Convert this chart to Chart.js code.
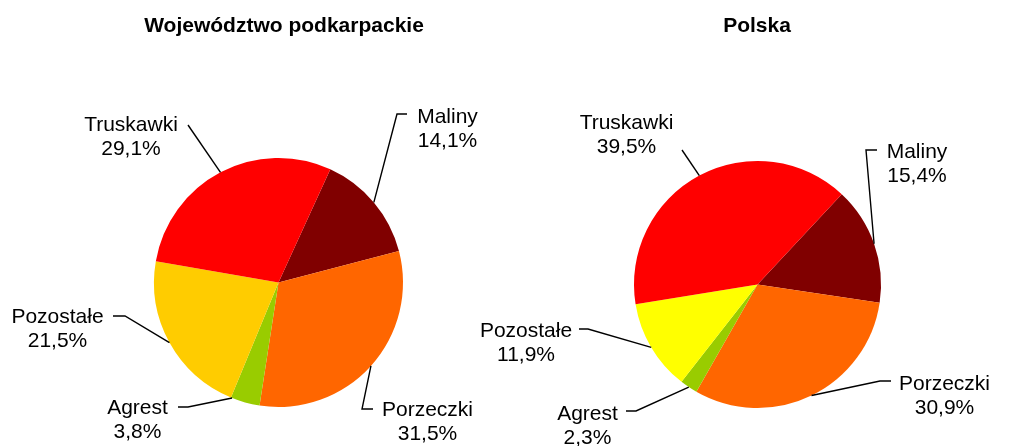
<!DOCTYPE html>
<html>
<head>
<meta charset="utf-8">
<script src="https://cdn.jsdelivr.net/npm/chart.js@4.4.1/dist/chart.umd.min.js"></script>
<style>
  html, body { margin: 0; padding: 0; background: #ffffff; }
  #wrap { position: relative; width: 1019px; height: 446px; }
  #wrap canvas { position: absolute; left: 0; top: 0; }
</style>
</head>
<body>
<div id="wrap">
  <canvas id="c1" width="1019" height="446"></canvas>
  <canvas id="c2" width="1019" height="446"></canvas>
</div>
<script>
// ---- data ----
const categories = ['Maliny', 'Porzeczki', 'Agrest', 'Pozostałe', 'Truskawki'];
const titlePodkarpackie = 'Województwo podkarpackie';
const titlePolska = 'Polska';
const valuesPodkarpackie = [14.1, 31.5, 3.8, 21.5, 29.1];
const valuesPolska = [15.4, 30.9, 2.3, 11.9, 39.5];

// ---- styles ----
const colorsPodkarpackie = ['#800000', '#FF6600', '#99CC00', '#FFCC00', '#FF0000'];
const colorsPolska = ['#800000', '#FF6600', '#99CC00', '#FFFF00', '#FF0000'];
const FONT = '"Liberation Sans", Arial, Helvetica, sans-serif';

// label layout: text centre x, first baseline y, leader elbow & end, attach fraction along the arc
const layoutPodkarpackie = [
  { tx: 447.5, ty: 123, elbow: [397, 114], end: [407, 114], frac: 0.5 },
  { tx: 427.5, ty: 416, elbow: [362, 409], end: [373, 409], frac: 0.5 },
  { tx: 137.5, ty: 414, elbow: [188, 407], end: [178, 407], frac: 0.96 },
  { tx: 57.5,  ty: 323, elbow: [125, 316], end: [113, 316], frac: 0.5 },
  { tx: 131,   ty: 131, elbow: [188, 125], end: [188, 125], frac: 0.5 }
];
const layoutPolska = [
  { tx: 917,   ty: 158, elbow: [866, 150], end: [877, 150], frac: 0.5 },
  { tx: 944.5, ty: 390, elbow: [880, 381], end: [891, 381], frac: 0.5 },
  { tx: 587.5, ty: 420, elbow: [636, 411], end: [626, 411], frac: 0.5 },
  { tx: 526,   ty: 337, elbow: [588, 329], end: [579, 329], frac: 0.5 },
  { tx: 626.5, ty: 129, elbow: [682, 150], end: [682, 150], frac: 0.5 }
];

function fmt(v) { return v.toFixed(1).replace('.', ',') + '%'; }

const labelPlugin = {
  id: 'pieLabels',
  afterDatasetsDraw(chart, args, opts) {
    const ctx = chart.ctx;
    const meta = chart.getDatasetMeta(0);
    const data = chart.data.datasets[0].data;
    ctx.save();
    // title
    ctx.font = 'bold 21px ' + FONT;
    ctx.fillStyle = '#000';
    ctx.textAlign = 'center';
    ctx.textBaseline = 'alphabetic';
    ctx.fillText(opts.title, opts.titleX, 31.5);
    // leaders + labels
    ctx.font = '21px ' + FONT;
    meta.data.forEach((arc, i) => {
      const L = opts.layout[i];
      const p = arc.getProps(['x', 'y', 'startAngle', 'endAngle', 'outerRadius'], true);
      const a = p.startAngle + L.frac * (p.endAngle - p.startAngle);
      const ax = p.x + Math.cos(a) * p.outerRadius;
      const ay = p.y + Math.sin(a) * p.outerRadius;
      ctx.beginPath();
      ctx.strokeStyle = '#000';
      ctx.lineWidth = 1.4;
      ctx.moveTo(ax, ay);
      ctx.lineTo(L.elbow[0], L.elbow[1]);
      ctx.lineTo(L.end[0], L.end[1]);
      ctx.stroke();
      ctx.fillStyle = '#000';
      ctx.fillText(chart.data.labels[i], L.tx, L.ty);
      ctx.fillText(fmt(data[i]), L.tx, L.ty + 24);
    });
    ctx.restore();
  }
};

function makePie(id, values, colors, rotation, padding, title, titleX, layout) {
  return new Chart(document.getElementById(id), {
    type: 'pie',
    data: {
      labels: categories,
      datasets: [{
        data: values,
        backgroundColor: colors,
        borderWidth: 0,
        borderColor: colors
      }]
    },
    options: {
      responsive: false,
      animation: false,
      rotation: rotation,
      layout: { padding: padding },
      plugins: {
        legend: { display: false },
        tooltip: { enabled: false },
        title: { display: false },
        pieLabels: { title: title, titleX: titleX, layout: layout }
      },
      events: []
    },
    plugins: [labelPlugin]
  });
}

makePie('c1', valuesPodkarpackie, colorsPodkarpackie, 24.6,
  { left: 154, right: 616, top: 158, bottom: 39 },
  titlePodkarpackie, 284, layoutPodkarpackie);
makePie('c2', valuesPolska, colorsPolska, 43,
  { left: 634, right: 138, top: 161, bottom: 38 },
  titlePolska, 757, layoutPolska);
</script>
</body>
</html>
